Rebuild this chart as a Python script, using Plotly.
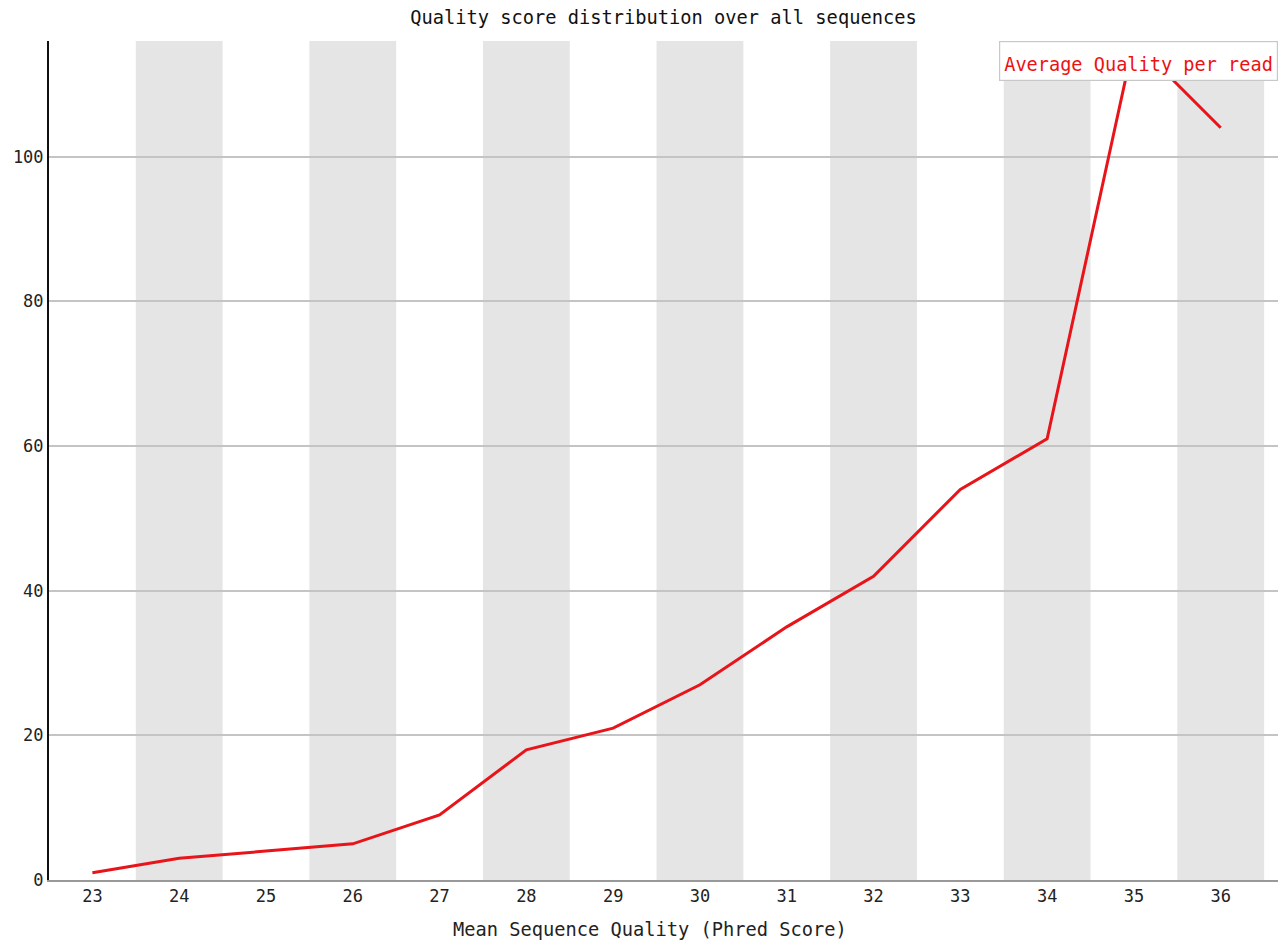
import plotly.graph_objects as go

# Mean Phred quality per read and number of reads at each value
quality = [23, 24, 25, 26, 27, 28, 29, 30, 31, 32, 33, 34, 35, 36]
read_count = [1, 3, 4, 5, 9, 18, 21, 27, 35, 42, 54, 61, 116, 104]
y_ticks = [0, 20, 40, 60, 80, 100]

FONT = "DejaVu Sans Mono"
fig = go.Figure()

fig.add_trace(go.Scatter(
    x=quality, y=read_count, mode="lines",
    line=dict(color="#e8141a", width=3),
    name="Average Quality per read", showlegend=False,
    hoverinfo="x+y",
))

# alternating shaded columns behind every other quality value
for i, q in enumerate(quality):
    if i % 2 == 1:
        fig.add_shape(type="rect", xref="x", yref="paper",
                      x0=q - 0.5, x1=q + 0.5, y0=0, y1=1,
                      fillcolor="#e5e5e5", line_width=0, layer="below")

# series key in the top-right corner
fig.add_annotation(
    xref="paper", yref="paper", x=1, y=1, xanchor="right", yanchor="top",
    text="<span style='font-size:1px'> </span><br>Average Quality per read",
    showarrow=False, align="center",
    font=dict(family=FONT, size=18.6, color="#ee1111"),
    bgcolor="white", bordercolor="#c8c8c8", borderwidth=1.2, borderpad=4,
)

# x-axis caption
fig.add_annotation(
    xref="paper", yref="paper", x=0.4894, y=0, xanchor="center",
    yanchor="middle", yshift=-49, showarrow=False,
    text="Mean Sequence Quality (Phred Score)",
    font=dict(family=FONT, size=18.7, color="#222"),
)

fig.update_layout(
    width=1285, height=942,
    margin=dict(l=49, r=7, t=41, b=62),
    paper_bgcolor="white", plot_bgcolor="white",
    font=dict(family=FONT, size=17, color="#222"),
    title=dict(text="Quality score distribution over all sequences",
               xref="paper", x=0.5, xanchor="center", y=0.981, yanchor="middle",
               font=dict(family=FONT, size=18.7, color="#111")),
    xaxis=dict(range=[22.5, 36.66], tickmode="array", tickvals=quality,
               ticktext=[str(q) for q in quality], showgrid=False,
               showline=True, linecolor="#999", linewidth=1.5,
               ticks="", zeroline=False),
    yaxis=dict(range=[0, 116], tickmode="array", tickvals=y_ticks,
               showgrid=True, gridcolor="#c4c4c4", gridwidth=1.5,
               showline=True, linecolor="#111", linewidth=2,
               zeroline=False, ticks="", ticklabelstandoff=0),
)

fig.write_html("out.html")
